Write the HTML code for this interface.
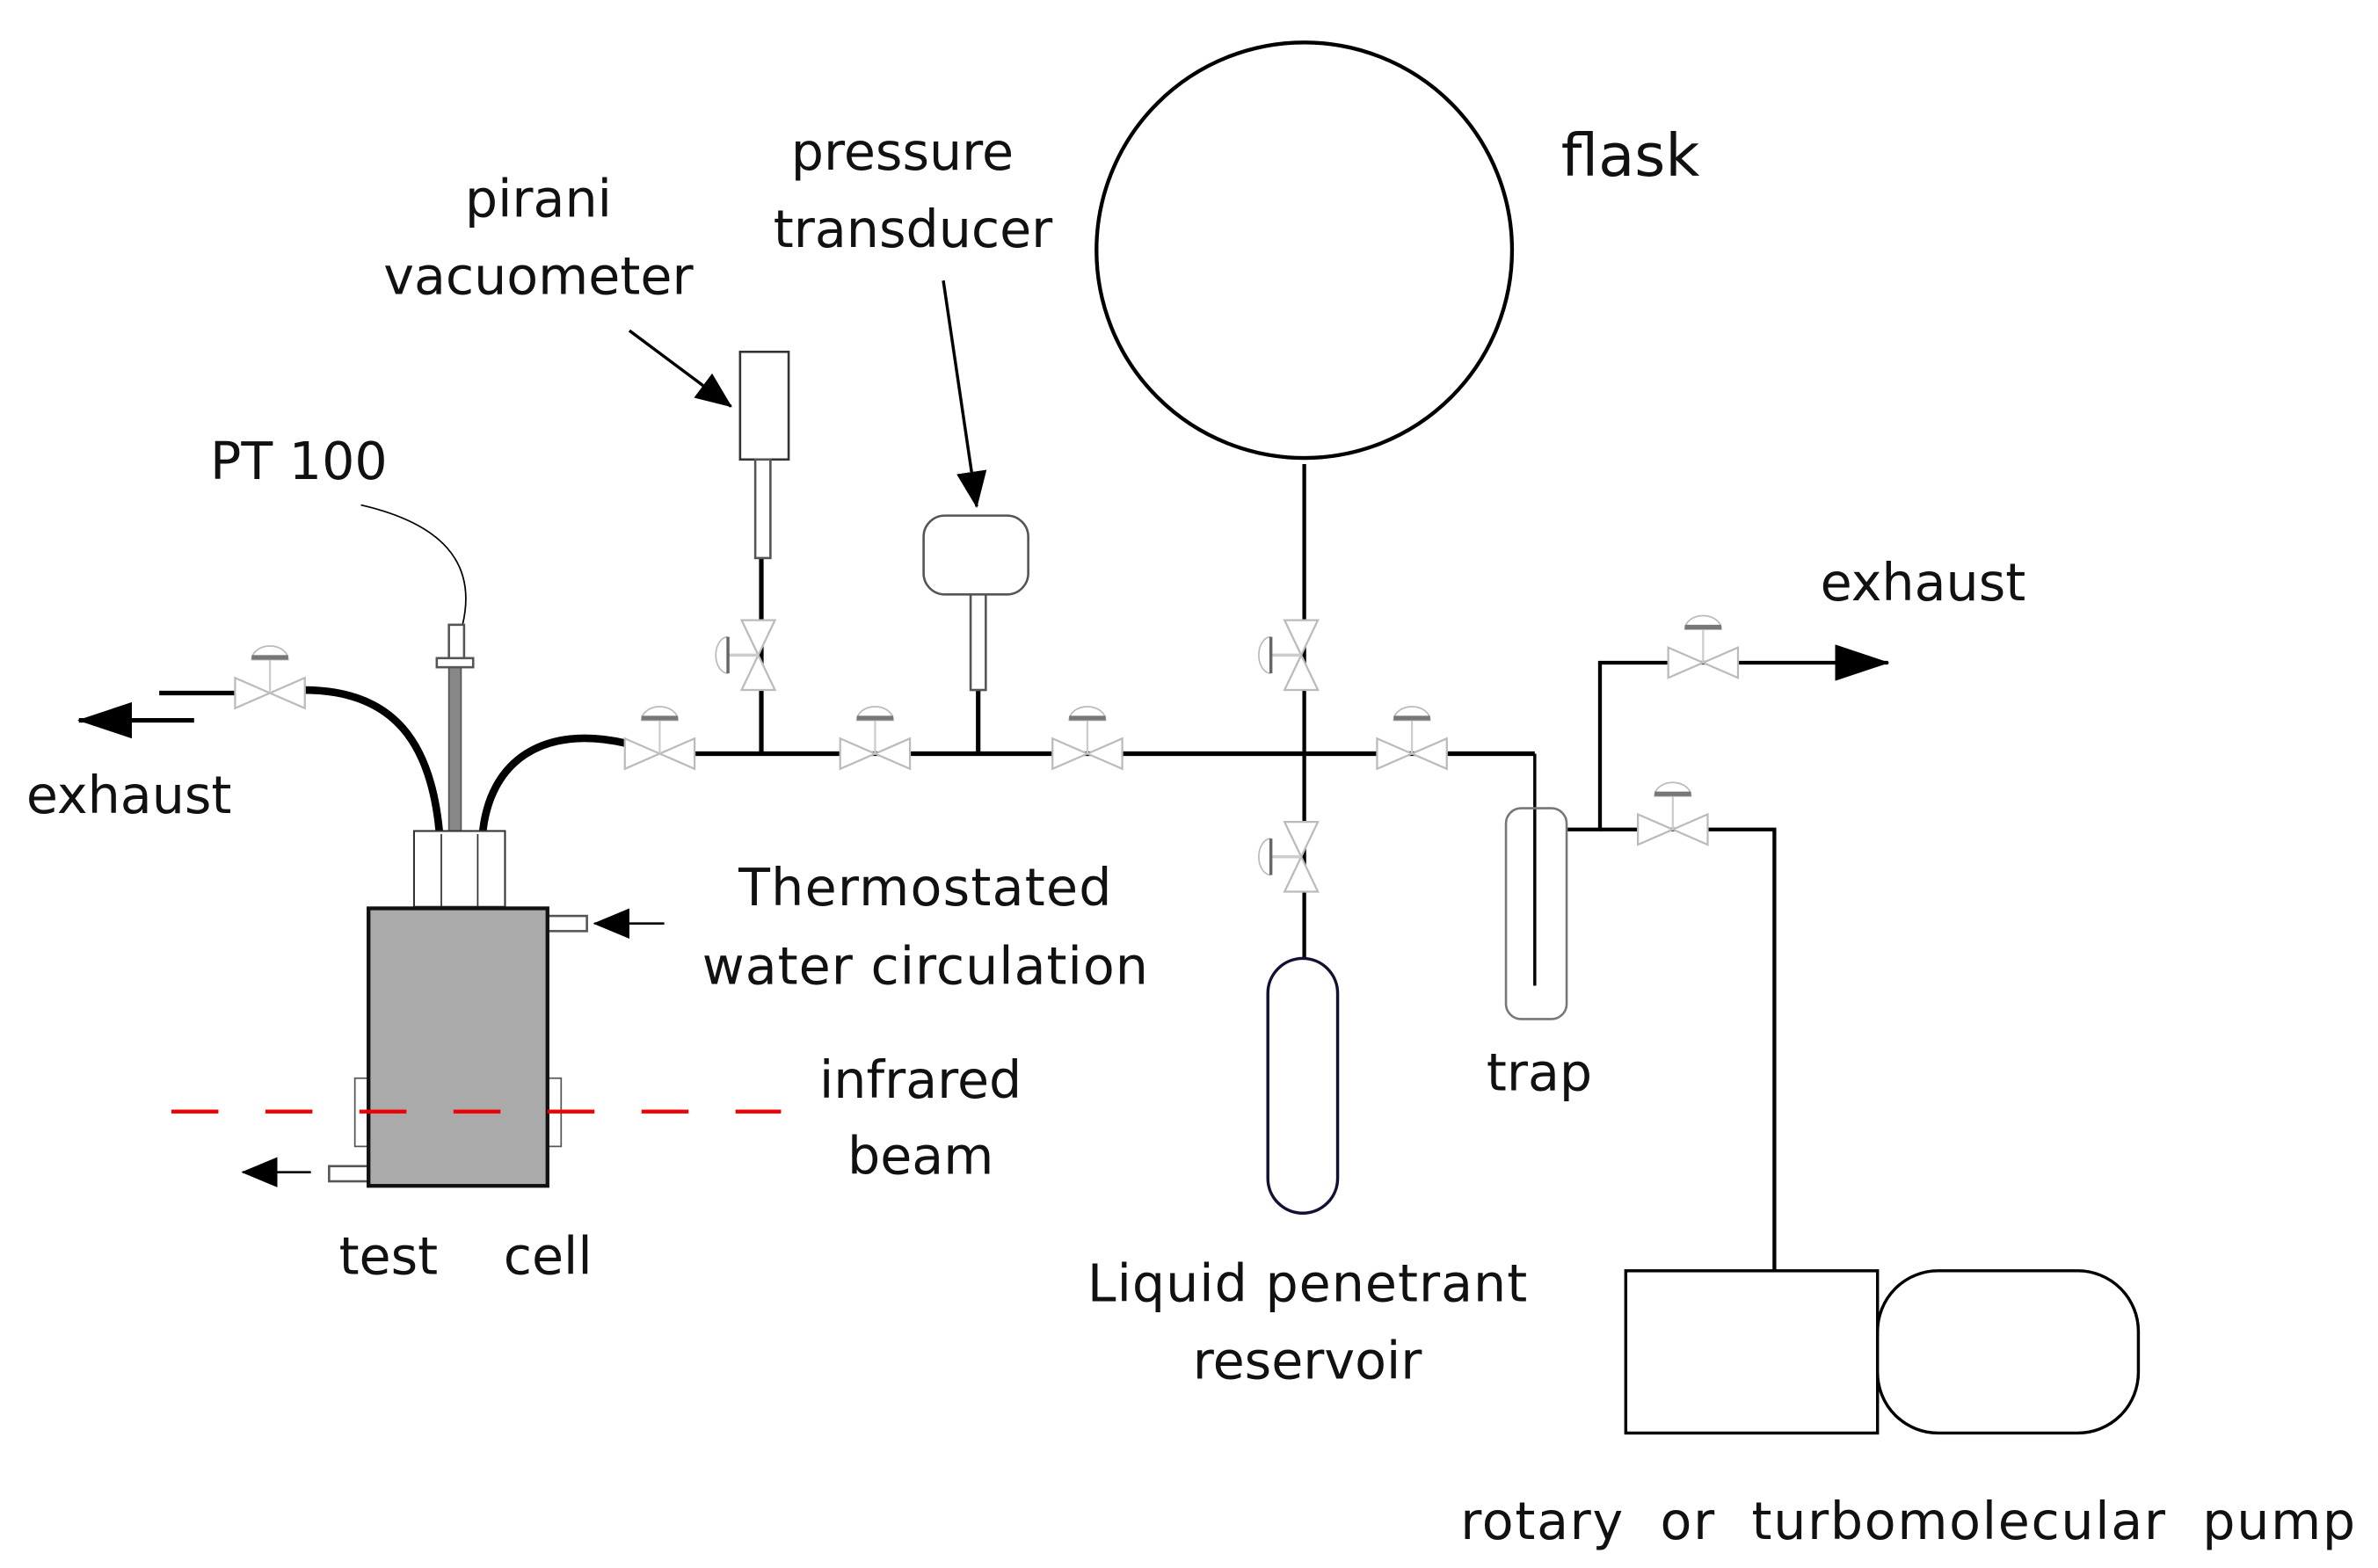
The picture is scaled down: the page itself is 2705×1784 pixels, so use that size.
<!DOCTYPE html>
<html><head><meta charset="utf-8"><style>html,body{margin:0;padding:0;background:#fff}svg{display:block}text{font-family:"DejaVu Sans","Liberation Sans",sans-serif;fill:#111}</style></head>
<body>
<svg width="2705" height="1784" viewBox="0 0 1568 1034" preserveAspectRatio="none" xmlns="http://www.w3.org/2000/svg">
<defs>
<marker id="ah" markerWidth="14" markerHeight="12" refX="13" refY="6" orient="auto" markerUnits="userSpaceOnUse"><path d="M0,0 L14,6 L0,12 z" fill="#000"/></marker>
<marker id="ab" markerWidth="36" markerHeight="24" refX="35" refY="12" orient="auto" markerUnits="userSpaceOnUse"><path d="M0,0 L36,12 L0,24 z" fill="#000"/></marker>
<marker id="am" markerWidth="24" markerHeight="20" refX="23" refY="10" orient="auto" markerUnits="userSpaceOnUse"><path d="M0,0 L24,10 L0,20 z" fill="#000"/></marker>
<g id="vh"><path d="M-23,-10 L23,10 L23,-10 L-23,10 z" fill="#fff" stroke="#bbb" stroke-width="1.3"/><line x1="0" y1="0" x2="0" y2="-22" stroke="#ccc" stroke-width="1.3"/><path d="M-12,-22 A12,9 0 0 1 12,-22 z" fill="#fff" stroke="#bbb"/><rect x="-12" y="-25" width="24" height="3" fill="#777"/></g>
<g id="vv"><path d="M-11,-23 L11,23 L-11,23 L11,-23 z" fill="#fff" stroke="#bbb" stroke-width="1.3"/><line x1="0" y1="0" x2="-20" y2="0" stroke="#ccc" stroke-width="2"/><path d="M-20,-12 A8,12 0 0 0 -20,12" fill="none" stroke="#bbb"/><line x1="-20" y1="-12" x2="-20" y2="12" stroke="#666" stroke-width="2"/></g>
</defs>
<g stroke="#000" stroke-width="3" fill="none">
<line x1="458" y1="497" x2="1012" y2="497"/>
<line x1="1012" y1="497" x2="1012" y2="650" stroke-width="2"/>
<line x1="502" y1="368" x2="502" y2="497"/>
<line x1="645" y1="455" x2="645" y2="497"/>
<line x1="860" y1="306" x2="860" y2="632" stroke-width="2.5"/>
<polyline points="1033,547 1055,547 1055,437 1245,437" stroke-width="2.5" marker-end="url(#ab)"/>
<polyline points="1055,547 1170,547 1170,838" stroke-width="2.5"/>
<line x1="105" y1="457" x2="155" y2="457"/>
<line x1="128" y1="475" x2="52" y2="475" marker-end="url(#ab)"/>
<path d="M200,455 C260,455 285,490 290,552" stroke-width="5"/>
<path d="M412,490 C360,478 322,500 318,552" stroke-width="5"/>
<line x1="415" y1="218" x2="482" y2="268" stroke-width="2" marker-end="url(#am)"/>
<line x1="622" y1="185" x2="644" y2="334" stroke-width="2" marker-end="url(#am)"/>
<path d="M238,333 C290,345 315,370 305,412" stroke-width="1"/>
<line x1="438" y1="609" x2="392" y2="609" stroke-width="1.5" marker-end="url(#am)"/>
<line x1="205" y1="773" x2="160" y2="773" stroke-width="1.5" marker-end="url(#am)"/>
</g>
<circle cx="860" cy="165" r="137" fill="none" stroke="#000" stroke-width="2.5"/>
<rect x="488" y="232" width="32" height="71" fill="#fff" stroke="#333" stroke-width="1.5"/>
<rect x="498" y="303" width="10" height="65" fill="#fff" stroke="#555" stroke-width="1.5"/>
<rect x="609" y="340" width="69" height="52" rx="14" fill="#fff" stroke="#555" stroke-width="1.5"/>
<rect x="640" y="392" width="10" height="63" fill="#fff" stroke="#555" stroke-width="1.5"/>
<rect x="836" y="632" width="46" height="168" rx="23" fill="#fff" stroke="#113" stroke-width="2"/>
<rect x="993" y="533" width="40" height="139" rx="10" fill="none" stroke="#777" stroke-width="1.5"/>
<rect x="1072" y="838" width="166" height="107" fill="#fff" stroke="#000" stroke-width="2"/>
<rect x="1238" y="838" width="172" height="107" rx="40" fill="#fff" stroke="#000" stroke-width="2"/>
<rect x="296" y="438" width="8" height="116" fill="#888" stroke="#555"/>
<rect x="296" y="412" width="10" height="24" fill="#fff" stroke="#555" stroke-width="1.5"/>
<rect x="288" y="434" width="24" height="6" fill="#fff" stroke="#555" stroke-width="1.5"/>
<rect x="273" y="548" width="60" height="50" fill="#fff" stroke="#333" stroke-width="1.2"/>
<line x1="291" y1="550" x2="291" y2="598" stroke="#333"/><line x1="315" y1="550" x2="315" y2="598" stroke="#333"/>
<rect x="361" y="604" width="26" height="10" fill="#fff" stroke="#555" stroke-width="1.5"/>
<rect x="217" y="769" width="26" height="10" fill="#fff" stroke="#555" stroke-width="1.5"/>
<rect x="234" y="711" width="9" height="45" fill="#fff" stroke="#555"/>
<rect x="361" y="711" width="9" height="45" fill="#fff" stroke="#555"/>
<rect x="243" y="599" width="118" height="183" fill="#aaa" stroke="#111" stroke-width="2.5"/>
<line x1="113" y1="733" x2="515" y2="733" stroke="#e00" stroke-width="2.5" stroke-dasharray="31,31"/>
<use href="#vh" x="178" y="457"/>
<use href="#vh" x="435" y="497"/>
<use href="#vh" x="577" y="497"/>
<use href="#vh" x="717" y="497"/>
<use href="#vh" x="931" y="497"/>
<use href="#vh" x="1123" y="437"/>
<use href="#vh" x="1103" y="547"/>
<use href="#vv" x="500" y="432"/>
<use href="#vv" x="858" y="432"/>
<use href="#vv" x="858" y="565"/>
<g font-size="34" text-anchor="middle">
<text x="355" y="143">pirani</text>
<text x="355" y="194">vacuometer</text>
<text x="595" y="112">pressure</text>
<text x="602" y="163">transducer</text>
<text x="1075" y="116" font-size="39">flask</text>
<text x="197" y="316">PT 100</text>
<text x="85" y="536">exhaust</text>
<text x="1268" y="396">exhaust</text>
<text x="610" y="597" textLength="246">Thermostated</text>
<text x="610" y="649" textLength="294">water circulation</text>
<text x="607" y="724">infrared</text>
<text x="607" y="774">beam</text>
<text x="307" y="840" xml:space="preserve">test    cell</text>
<text x="862" y="858" textLength="290">Liquid penetrant</text>
<text x="862" y="909">reservoir</text>
<text x="1015" y="719">trap</text>
<text x="1258" y="1015" xml:space="preserve" textLength="590">rotary  or  turbomolecular  pump</text>
</g>
</svg>
</body></html>
